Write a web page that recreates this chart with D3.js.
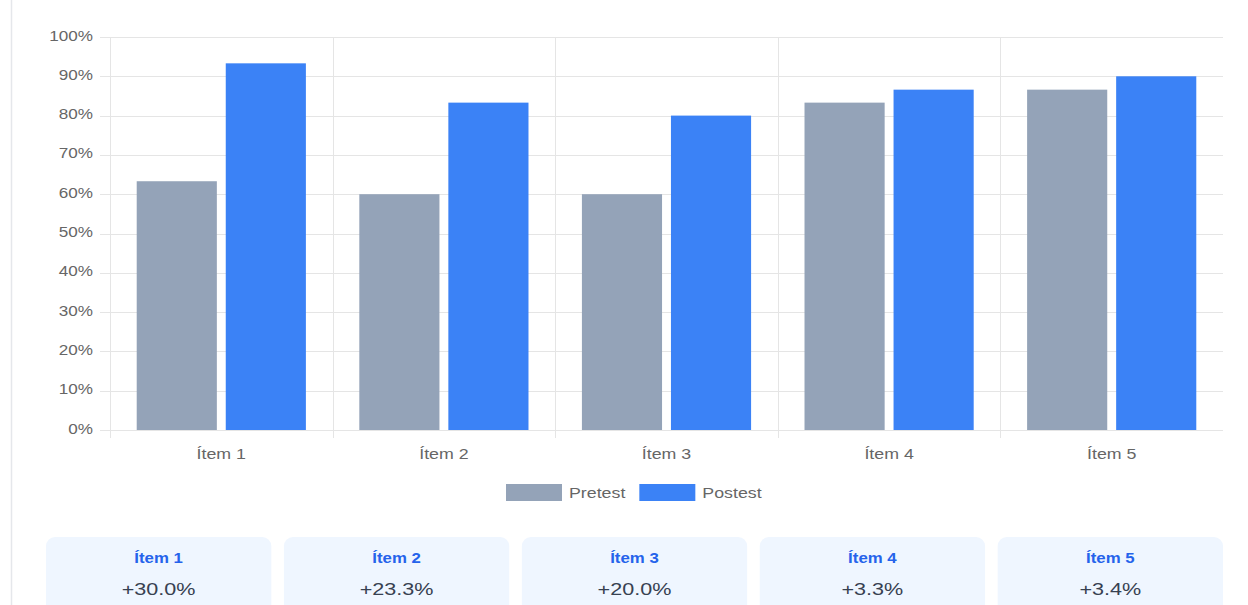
<!DOCTYPE html>
<html>
<head>
<meta charset="utf-8">
<script src="https://cdn.jsdelivr.net/npm/d3@7"></script>
<style>
  html, body { margin: 0; padding: 0; background: #fff; }
  svg { display: block; font-family: "Liberation Sans", Arial, Helvetica, sans-serif; }
</style>
</head>
<body>
<svg id="chart" width="1248" height="605"></svg>
<script>
// ---- data ----
const items = ["Ítem 1", "Ítem 2", "Ítem 3", "Ítem 4", "Ítem 5"];
const seriesNames = ["Pretest", "Postest"];
const pretest = [63.3, 60.0, 60.0, 83.3, 86.6];
const postest = [93.3, 83.3, 80.0, 86.6, 90.0];
const yTicks = [0, 10, 20, 30, 40, 50, 60, 70, 80, 90, 100];
const seriesColors = ["#94a3b8", "#3b82f6"];

// ---- layout ----
const W = 1248, H = 605;
const plot = { left: 110, right: 1223, top: 37, bottom: 430 };
const gridColor = "#e5e5e5";
const labelColor = "#666";
const SX = 1.27; // horizontal text stretch

const svg = d3.select("#chart");

// widen text glyphs horizontally; returns nothing, stores widths in textLength
function stretch(sel, k = SX) {
  sel.each(function () {
    const w = this.getComputedTextLength();
    this.setAttribute("textLength", w * k);
    this.setAttribute("lengthAdjust", "spacingAndGlyphs");
  });
}

// container border on the left
svg.append("line")
  .attr("x1", 11.5).attr("x2", 11.5).attr("y1", 0).attr("y2", H)
  .attr("stroke", "#e5e7eb").attr("stroke-width", 1.5);

// ---- scales ----
const x = d3.scaleBand().domain(items).range([plot.left, plot.right]).padding(0);
const bw = x.bandwidth();
const xs = d3.scaleBand().domain(seriesNames)
  .range([bw * 0.1, bw * 0.9]).paddingInner(0.1).paddingOuter(0.05);
const y = d3.scaleLinear().domain([0, 100]).range([plot.bottom, plot.top]);

// ---- y axis with horizontal grid ----
const yAxis = svg.append("g")
  .attr("transform", `translate(${plot.left},0)`)
  .call(d3.axisLeft(y).tickValues(yTicks).tickFormat(d => d + "%")
    .tickSizeInner(6).tickSizeOuter(0).tickPadding(11));
yAxis.select(".domain").remove();
yAxis.selectAll(".tick line")
  .attr("x1", -10).attr("x2", plot.right - plot.left)
  .attr("stroke", gridColor).attr("shape-rendering", "crispEdges");
yAxis.selectAll(".tick text")
  .attr("fill", labelColor).attr("font-size", 14)
  .attr("font-family", "Liberation Sans, Arial, sans-serif")
  .attr("dy", "0.22em")
  .call(stretch, 1.22);

// ---- vertical grid at category boundaries ----
svg.append("g").selectAll("line")
  .data(items)
  .join("line")
  .attr("x1", d => Math.round(x(d)) + 0.5).attr("x2", d => Math.round(x(d)) + 0.5)
  .attr("y1", plot.top).attr("y2", plot.bottom + 8)
  .attr("stroke", gridColor);

// ---- x axis ----
const xAxis = svg.append("g")
  .attr("transform", `translate(0,${plot.bottom})`)
  .call(d3.axisBottom(x).tickSize(0).tickPadding(19));
xAxis.select(".domain")
  .attr("stroke", gridColor).attr("d", `M${plot.left},0.5H${plot.right}`);
xAxis.selectAll(".tick text")
  .attr("fill", labelColor).attr("font-size", 14)
  .attr("font-family", "Liberation Sans, Arial, sans-serif")
  .call(stretch);

// ---- bars ----
const rows = items.map((it, i) => ({ item: it, values: [pretest[i], postest[i]] }));
const groups = svg.append("g").selectAll("g")
  .data(rows)
  .join("g")
  .attr("transform", d => `translate(${x(d.item)},0)`);
groups.selectAll("rect")
  .data(d => d.values.map((v, k) => ({ series: seriesNames[k], value: v, k })))
  .join("rect")
  .attr("x", d => xs(d.series))
  .attr("width", xs.bandwidth())
  .attr("y", d => y(d.value))
  .attr("height", d => y(0) - y(d.value))
  .attr("fill", d => seriesColors[d.k]);

// ---- legend ----
const legend = svg.append("g").attr("transform", "translate(506,484)");
let lx = 0;
seriesNames.forEach((name, k) => {
  legend.append("rect")
    .attr("x", lx).attr("y", 0).attr("width", 56).attr("height", 17)
    .attr("fill", seriesColors[k]);
  const t = legend.append("text")
    .attr("x", lx + 63).attr("y", 13.5)
    .attr("font-size", 14).attr("fill", labelColor)
    .text(name)
    .call(stretch);
  lx += 63 + (+t.attr("textLength")) + 14;
});

// ---- improvement cards ----
const cx = d3.scaleBand().domain(items).range([46, 1223]).paddingInner(0.053).paddingOuter(0);
const cards = svg.append("g").selectAll("g")
  .data(rows)
  .join("g")
  .attr("transform", d => `translate(${cx(d.item)},537)`);
cards.append("rect")
  .attr("width", cx.bandwidth()).attr("height", 100)
  .attr("rx", 9).attr("fill", "#eff6ff");
cards.append("text")
  .attr("x", cx.bandwidth() / 2).attr("y", 26)
  .attr("text-anchor", "middle")
  .attr("font-size", 14).attr("font-weight", "bold")
  .attr("fill", "#2563eb")
  .text(d => d.item)
  .call(stretch, 1.2);
cards.append("text")
  .attr("x", cx.bandwidth() / 2).attr("y", 58)
  .attr("text-anchor", "middle")
  .attr("font-size", 17)
  .attr("fill", "#374151")
  .text(d => {
    const diff = d.values[1] - d.values[0];
    return (diff >= 0 ? "+" : "") + diff.toFixed(1) + "%";
  })
  .call(stretch);
</script>
</body>
</html>
